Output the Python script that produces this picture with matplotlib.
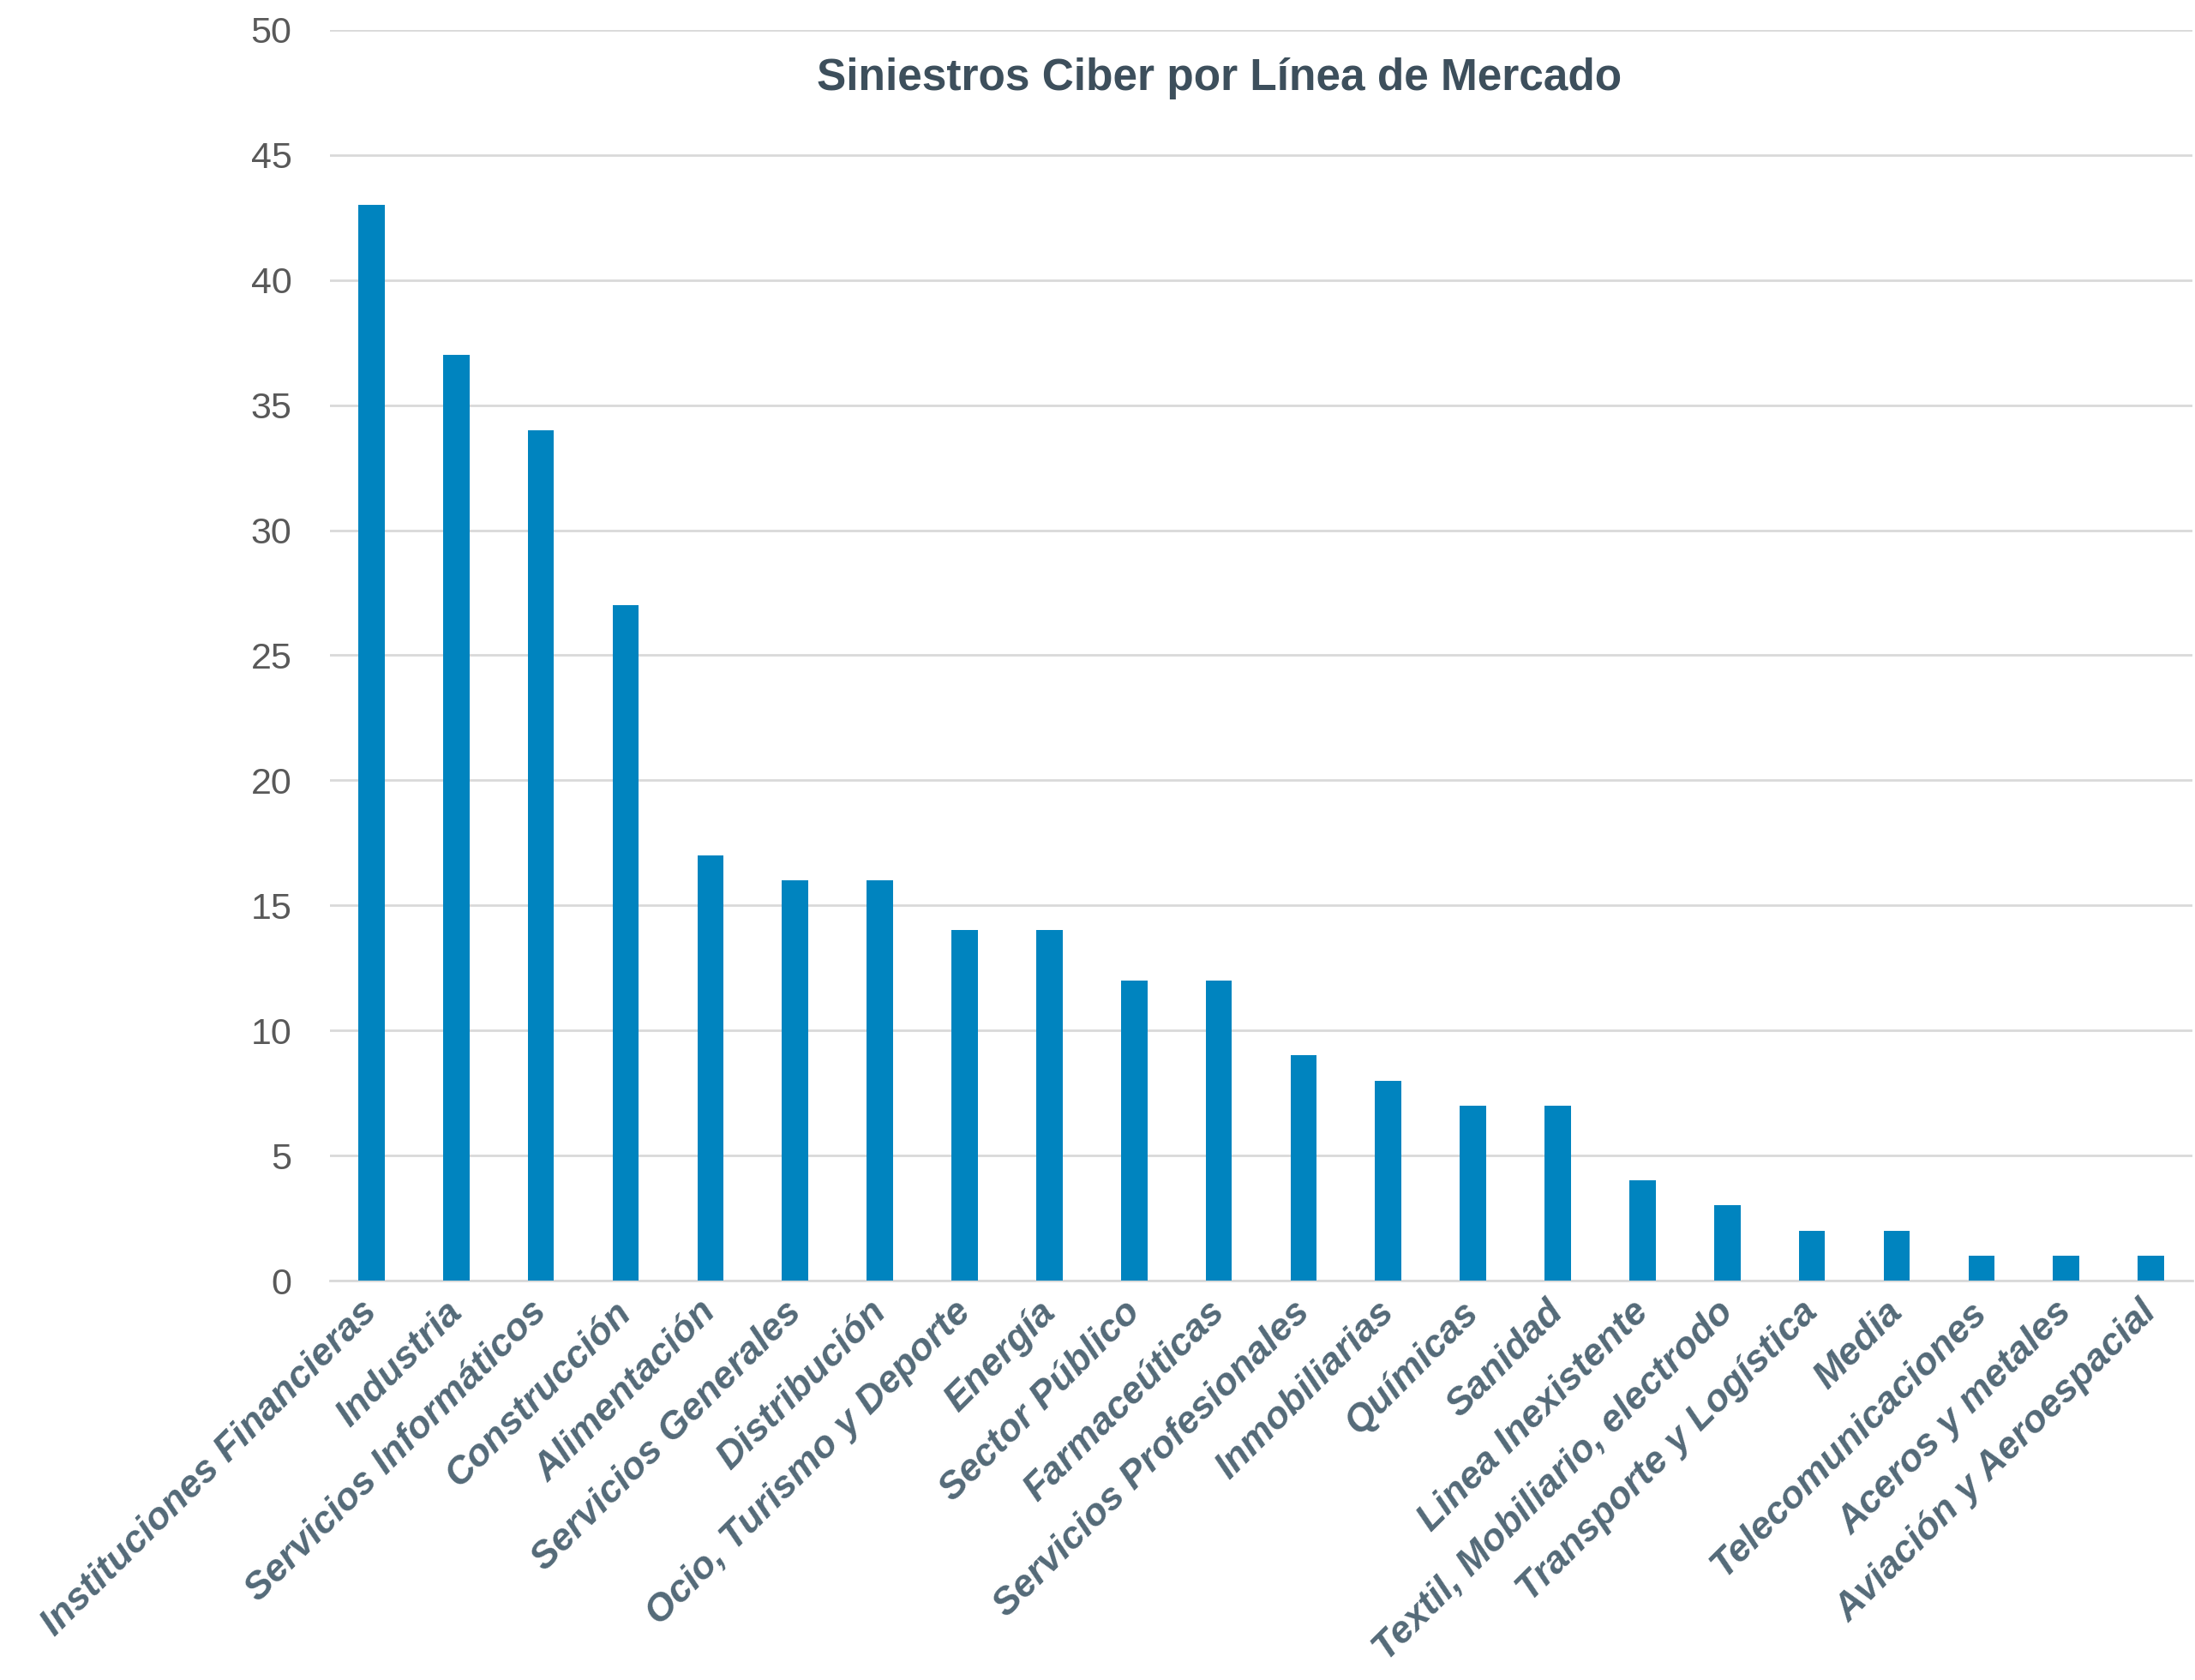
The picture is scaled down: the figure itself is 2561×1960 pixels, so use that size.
import matplotlib
matplotlib.use("Agg")
import matplotlib.pyplot as plt
from matplotlib.transforms import ScaledTranslation

categories = [
    "Instituciones Financieras", "Industria", "Servicios Informáticos",
    "Construcción", "Alimentación", "Servicios Generales", "Distribución",
    "Ocio, Turismo y Deporte", "Energía", "Sector Público", "Farmaceúticas",
    "Servicios Profesionales", "Inmobiliarias", "Químicas", "Sanidad",
    "Linea Inexistente", "Textil, Mobiliario, electrodo",
    "Transporte y Logística", "Media", "Telecomunicaciones",
    "Aceros y metales", "Aviación y Aeroespacial",
]
siniestros = [43, 37, 34, 27, 17, 16, 16, 14, 14, 12, 12, 9, 8, 7, 7, 4, 3, 2, 2, 1, 1, 1]
y_ticks = [0, 5, 10, 15, 20, 25, 30, 35, 40, 45, 50]
title = "Siniestros Ciber por Línea de Mercado"

W, H, DPI = 2561, 1960, 100
fig = plt.figure(figsize=(W / DPI, H / DPI), dpi=DPI)
fig.patch.set_facecolor("white")

left, right, bottom, top = 385, 2558, 1494, 35
ax = fig.add_axes([left / W, 1 - bottom / H, (right - left) / W, (bottom - top) / H])

x = list(range(len(categories)))
ax.bar(x, siniestros, width=0.31, color="#0084BF", zorder=3)

ax.set_xlim(-0.49, len(categories) - 0.51)
ax.set_ylim(0, 50)
ax.set_yticks(y_ticks)
ax.set_yticklabels([str(v) for v in y_ticks], fontsize=31, color="#595959",
                   family="Liberation Sans")
ax.yaxis.grid(True, color="#D9D9D9", linewidth=2, zorder=0)
ax.tick_params(axis="y", length=0, pad=32)
ax.tick_params(axis="x", length=0, pad=16)

ax.set_xticks(x)
ax.set_xticklabels(categories, rotation=45, ha="right", va="top",
                   rotation_mode="anchor", fontsize=32, fontweight="bold",
                   fontstyle="italic", color="#546A78", family="Liberation Sans")

# nudge the rotated category labels slightly up and to the left
shift = ScaledTranslation(-14 / DPI, 6 / DPI, fig.dpi_scale_trans)
for lbl in ax.get_xticklabels():
    lbl.set_transform(lbl.get_transform() + shift)

for side in ("top", "right", "left"):
    ax.spines[side].set_visible(False)
ax.spines["bottom"].set_color("#D9D9D9")
ax.spines["bottom"].set_linewidth(2)

fig.text(1423 / W, 1 - 92 / H, title, ha="center", va="center",
         fontsize=37, fontweight="bold", color="#3D4F5C", family="Liberation Sans")

fig.savefig("out.png", dpi=DPI, facecolor="white")
